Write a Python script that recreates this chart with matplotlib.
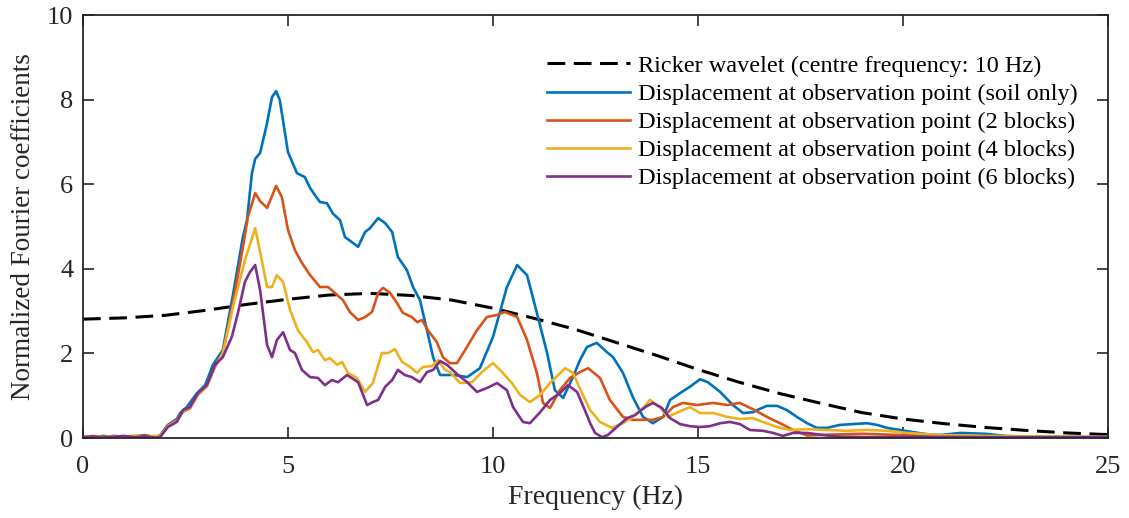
import matplotlib
matplotlib.use("Agg")
import matplotlib.pyplot as plt

plt.rcParams["font.family"] = ["Liberation Serif", "DejaVu Serif"]

# Ricker wavelet spectrum (centre frequency 10 Hz)
ricker_f = [0, 1, 2, 3, 4, 5, 6, 7, 8, 9, 10, 11, 12, 13, 14, 15, 16, 17, 18,
            19, 20, 21, 22, 23, 24, 25]
ricker_v = [2.81, 2.84, 2.90, 3.02, 3.16, 3.28, 3.38, 3.42, 3.37, 3.26, 3.07,
            2.83, 2.57, 2.26, 1.95, 1.62, 1.32, 1.05, 0.82, 0.60, 0.45, 0.34,
            0.25, 0.18, 0.12, 0.08]

# Soil only
soil_f = [0, 0.25, 0.5, 0.75, 1.0, 1.25, 1.5, 1.75, 1.88, 2.07, 2.29, 2.37, 2.53,
          2.78, 2.98, 3.17, 3.41, 3.66, 3.9, 4.0, 4.12, 4.2, 4.32, 4.48, 4.61,
          4.71, 4.8, 5.0, 5.22, 5.41, 5.54, 5.66, 5.78, 5.95, 6.1, 6.27, 6.39,
          6.56, 6.71, 6.88, 7.0, 7.2, 7.37, 7.54, 7.68, 7.9, 8.05, 8.22, 8.39,
          8.54, 8.71, 8.9, 9.03, 9.2, 9.37, 9.68, 10.0, 10.34, 10.59, 10.83,
          11.07, 11.32, 11.51, 11.71, 11.95, 12.12, 12.29, 12.53, 12.78, 12.93,
          13.17, 13.41, 13.66, 13.9, 14.15, 14.32, 14.56, 14.8, 15.05, 15.24,
          15.54, 15.85, 16.1, 16.34, 16.44, 16.68, 16.93, 17.17, 17.41, 17.66,
          17.9, 18.15, 18.46, 18.78, 19.12, 19.37, 19.61, 19.93, 20.24, 20.59,
          20.9, 21.4, 22.0, 22.5, 23.0, 24.0, 25.0]
soil_v = [0.03, 0.02, 0.05, 0.02, 0.04, 0.03, 0.07, 0.02, 0.06, 0.31, 0.45, 0.59,
          0.73, 1.06, 1.25, 1.73, 2.08, 3.40, 4.75, 5.15, 6.26, 6.60, 6.74, 7.40,
          8.06, 8.20, 7.99, 6.76, 6.26, 6.17, 5.91, 5.74, 5.58, 5.55, 5.30, 5.15,
          4.75, 4.63, 4.52, 4.87, 4.96, 5.20, 5.08, 4.87, 4.28, 3.97, 3.57, 3.26,
          2.55, 1.91, 1.49, 1.49, 1.49, 1.47, 1.44, 1.65, 2.39, 3.57, 4.09, 3.85,
          2.96, 2.01, 1.13, 0.95, 1.44, 1.84, 2.15, 2.25, 2.03, 1.91, 1.54, 0.97,
          0.50, 0.35, 0.50, 0.90, 1.06, 1.21, 1.39, 1.32, 1.09, 0.78, 0.59, 0.61,
          0.66, 0.76, 0.76, 0.66, 0.50, 0.35, 0.24, 0.24, 0.31, 0.33, 0.35, 0.31,
          0.24, 0.19, 0.14, 0.09, 0.07, 0.12, 0.10, 0.05, 0.03, 0.02, 0.02]

# 2 blocks
two_f = [0, 0.25, 0.5, 0.75, 1.0, 1.25, 1.5, 1.75, 1.88, 2.07, 2.29, 2.44, 2.61,
         2.8, 3.02, 3.22, 3.41, 3.66, 3.9, 4.02, 4.2, 4.32, 4.49, 4.71, 4.85,
         5.0, 5.17, 5.34, 5.54, 5.78, 5.98, 6.2, 6.34, 6.51, 6.71, 6.88, 7.05,
         7.2, 7.32, 7.49, 7.66, 7.8, 8.02, 8.15, 8.27, 8.41, 8.63, 8.78, 8.95,
         9.12, 9.32, 9.61, 9.85, 10.1, 10.29, 10.59, 10.83, 11.07, 11.22,
         11.39, 11.63, 11.88, 12.12, 12.32, 12.61, 12.85, 13.17, 13.41, 13.66,
         13.9, 14.15, 14.39, 14.63, 14.98, 15.37, 15.71, 16.02, 16.34, 16.68,
         17.0, 17.32, 17.66, 18.2, 19.0, 20.0, 21.0, 22.0, 23.0, 25.0]
two_v = [0.02, 0.04, 0.02, 0.05, 0.03, 0.04, 0.06, 0.03, 0.05, 0.29, 0.42, 0.62,
         0.70, 1.02, 1.22, 1.68, 2.02, 3.20, 4.50, 5.22, 5.79, 5.60, 5.44, 5.96,
         5.70, 4.92, 4.44, 4.14, 3.85, 3.57, 3.57, 3.38, 3.26, 2.98, 2.79, 2.86,
         2.98, 3.43, 3.55, 3.43, 3.19, 2.96, 2.86, 2.74, 2.79, 2.55, 2.27, 1.91,
         1.77, 1.77, 2.08, 2.55, 2.86, 2.91, 2.98, 2.86, 2.32, 1.54, 0.83, 0.71,
         1.13, 1.42, 1.56, 1.65, 1.42, 0.90, 0.50, 0.43, 0.43, 0.43, 0.50, 0.73,
         0.83, 0.78, 0.83, 0.78, 0.83, 0.68, 0.50, 0.35, 0.19, 0.06, 0.08, 0.10,
         0.07, 0.05, 0.04, 0.03, 0.02]

# 4 blocks
four_f = [0, 0.25, 0.5, 0.75, 1.0, 1.25, 1.5, 1.75, 1.88, 2.07, 2.29, 2.44,
          2.61, 2.8, 3.02, 3.22, 3.41, 3.66, 3.95, 4.2, 4.32, 4.49, 4.61, 4.73,
          4.88, 5.05, 5.24, 5.46, 5.61, 5.73, 5.9, 6.02, 6.2, 6.32, 6.46, 6.68,
          6.88, 7.07, 7.29, 7.44, 7.61, 7.78, 7.98, 8.15, 8.29, 8.51, 8.66,
          8.83, 8.95, 9.2, 9.49, 9.73, 10.0, 10.22, 10.46, 10.66, 10.9, 11.15,
          11.39, 11.59, 11.76, 11.95, 12.12, 12.37, 12.61, 12.9, 13.17, 13.41,
          13.66, 13.83, 14.07, 14.27, 14.51, 14.8, 15.05, 15.37, 15.71, 16.02,
          16.34, 16.59, 16.93, 17.24, 17.66, 18.15, 18.63, 19.12, 19.61, 20.1,
          20.59, 20.9, 21.5, 22.0, 23.0, 24.0, 25.0]
four_v = [0.03, 0.05, 0.02, 0.04, 0.03, 0.06, 0.02, 0.05, 0.04, 0.28, 0.40,
          0.64, 0.71, 1.04, 1.23, 1.70, 2.00, 3.10, 4.20, 4.96, 4.40, 3.57, 3.57,
          3.85, 3.69, 3.03, 2.55, 2.27, 2.03, 2.08, 1.84, 1.89, 1.73, 1.80, 1.54,
          1.42, 1.09, 1.30, 2.01, 2.01, 2.10, 1.80, 1.68, 1.54, 1.68, 1.70, 1.84,
          1.61, 1.56, 1.30, 1.32, 1.56, 1.77, 1.56, 1.30, 1.02, 0.85, 1.02, 1.30,
          1.49, 1.65, 1.54, 1.17, 0.66, 0.38, 0.24, 0.35, 0.50, 0.71, 0.90, 0.73,
          0.50, 0.61, 0.73, 0.59, 0.59, 0.50, 0.45, 0.47, 0.38, 0.26, 0.19, 0.21,
          0.19, 0.17, 0.19, 0.17, 0.12, 0.09, 0.07, 0.06, 0.05, 0.04, 0.03, 0.03]

# 6 blocks
six_f = [0, 0.25, 0.5, 0.75, 1.0, 1.25, 1.5, 1.75, 1.88, 2.07, 2.29, 2.44, 2.61,
         2.8, 3.02, 3.22, 3.41, 3.63, 3.78, 3.95, 4.07, 4.2, 4.32, 4.49, 4.61,
         4.73, 4.88, 5.05, 5.17, 5.34, 5.54, 5.73, 5.9, 6.07, 6.22, 6.44, 6.71,
         6.93, 7.07, 7.2, 7.37, 7.54, 7.68, 7.85, 8.02, 8.22, 8.39, 8.54, 8.71,
         8.88, 9.15, 9.37, 9.61, 9.85, 10.1, 10.34, 10.49, 10.73, 10.9, 11.15,
         11.39, 11.63, 11.83, 12.05, 12.24, 12.37, 12.49, 12.66, 12.8, 13.02,
         13.27, 13.46, 13.71, 13.9, 14.12, 14.32, 14.56, 14.8, 15.05, 15.29,
         15.54, 15.78, 16.02, 16.27, 16.59, 16.83, 17.07, 17.32, 17.66, 18.05,
         18.46, 19.27, 20.5, 22.0, 25.0]
six_v = [0.02, 0.04, 0.01, 0.03, 0.05, 0.02, 0.04, 0.01, 0.02, 0.26, 0.38, 0.66,
         0.73, 1.06, 1.25, 1.73, 1.91, 2.39, 2.96, 3.69, 3.92, 4.09, 3.50, 2.20,
         1.91, 2.32, 2.50, 2.08, 2.01, 1.61, 1.44, 1.42, 1.25, 1.37, 1.32, 1.49,
         1.32, 0.78, 0.85, 0.90, 1.21, 1.37, 1.61, 1.49, 1.44, 1.32, 1.56, 1.61,
         1.82, 1.73, 1.49, 1.32, 1.09, 1.18, 1.30, 1.13, 0.73, 0.38, 0.35, 0.61,
         0.90, 1.06, 1.25, 1.09, 0.66, 0.35, 0.12, 0.02, 0.07, 0.26, 0.47, 0.54,
         0.73, 0.83, 0.71, 0.47, 0.33, 0.28, 0.26, 0.28, 0.35, 0.38, 0.33, 0.19,
         0.17, 0.12, 0.05, 0.12, 0.12, 0.07, 0.03, 0.02, 0.03, 0.02, 0.02]

series = [
    (ricker_f, ricker_v, "Ricker wavelet (centre frequency: 10 Hz)", "black"),
    (soil_f, soil_v, "Displacement at observation point (soil only)", "#0072BD"),
    (two_f, two_v, "Displacement at observation point (2 blocks)", "#D95319"),
    (four_f, four_v, "Displacement at observation point (4 blocks)", "#EDB120"),
    (six_f, six_v, "Displacement at observation point (6 blocks)", "#7E2F8E"),
]

fig = plt.figure(figsize=(11.29, 5.18), dpi=100)
ax = fig.add_axes([0.0735, 0.1544, 0.9079, 0.8166])

for i, (f, v, label, color) in enumerate(series):
    if i == 0:
        ax.plot(f, v, color=color, lw=2.2, dashes=(5.8, 2.8), label=label)
    else:
        ax.plot(f, v, color=color, lw=1.9, label=label)

ax.set_xlim(0, 25)
ax.set_ylim(0, 10)
ax.set_xticks([0, 5, 10, 15, 20, 25])
ax.set_yticks([0, 2, 4, 6, 8, 10])
ax.tick_params(direction="in", length=8, width=1.2, top=True, right=True,
               labelsize=19, colors="#262626")
ax.tick_params(axis="x", pad=13)
ax.tick_params(axis="y", pad=7)
for s in ax.spines.values():
    s.set_linewidth(1.3)
    s.set_color("#262626")
ax.set_xlabel("Frequency (Hz)", fontsize=20, color="#262626", labelpad=5)
ax.set_ylabel("Normalized Fourier coefficients", fontsize=19.5,
              color="#262626", labelpad=8)

ax.legend(loc="upper right", bbox_to_anchor=(0.985, 0.94), frameon=False,
          fontsize=17.5, handlelength=3.4, handletextpad=0.35,
          labelspacing=0.25, borderaxespad=0.2)

fig.savefig("out.png", dpi=100)
